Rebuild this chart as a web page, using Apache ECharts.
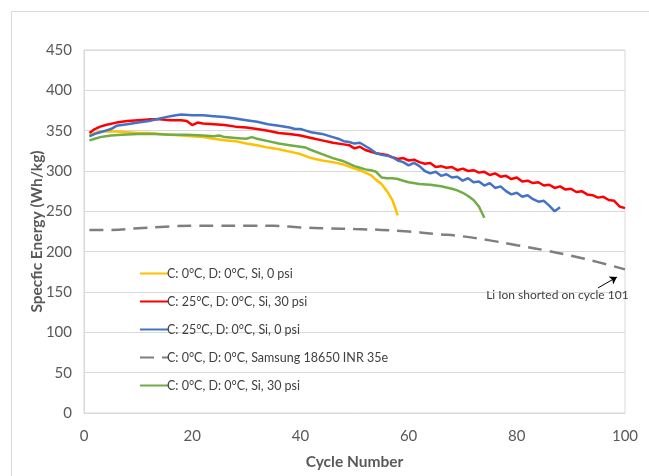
<!DOCTYPE html>
<html>
<head>
<meta charset="utf-8">
<script src="https://cdn.jsdelivr.net/npm/echarts@6/dist/echarts.min.js"></script>
<style>html,body{margin:0;padding:0;background:#fff;}#c{width:649px;height:476px;}</style>
</head>
<body>
<div id="c"></div>
<script>
// ---- data ----
const seriesNames = [
  'C: 0°C, D: 0°C, Si, 0 psi',
  'C: 25°C, D: 0°C, Si, 30 psi',
  'C: 25°C, D: 0°C, Si, 0 psi',
  'C: 0°C, D: 0°C, Samsung 18650 INR 35e',
  'C: 0°C, D: 0°C, Si, 30 psi'
];
const xTicks = [0, 20, 40, 60, 80, 100];
const yTicks = [0, 50, 100, 150, 200, 250, 300, 350, 400, 450];

const cyclesYellow = [1,2,3,4,6,8,10,12,14,16,18,20,22,24,26,28,30,32,34,36,38,40,42,44,46,48,50,51,52,53,54,55,56,57,58];
const energyYellow = [344,347,349,349,349,348,347,347,346,345,344,343,342,340,338,337,334,332,329,327,324,321,316,313,311,308,303,301,298,295,289,284,275,264,245];

const cyclesRed = [1,2,3,4,6,8,10,12,14,16,18,19,20,21,22,24,26,28,30,32,34,36,38,40,42,44,46,48,49,50,51,52,54,56,57,58,59,60,61,62,63,64,65,66,67,68,69,70,71,72,73,74,75,76,77,78,79,80,81,82,83,84,85,86,87,88,89,90,91,92,93,94,95,96,97,98,99,100];
const energyRed = [347,352,355,357,360,362,363,364,364,363,363,362,357,360,359,358,357,355,354,352,350,347,346,344,341,338,335,333,332,328,330,326,322,320,317,315,316,313,314,311,309,310,305,306,304,305,301,303,300,301,298,299,295,297,293,294,290,292,287,288,285,286,282,283,279,281,277,278,274,275,271,270,267,268,264,263,256,254];

const cyclesBlue = [1,2,3,4,5,6,8,10,12,14,16,17,18,20,22,24,26,28,30,32,34,36,38,39,40,41,42,44,46,47,48,49,50,51,52,53,54,55,56,57,58,59,60,61,62,63,64,65,66,67,68,69,70,71,72,73,74,75,76,77,78,79,80,81,82,83,84,85,86,87,88];
const energyBlue = [343,346,348,350,352,356,358,360,362,365,368,369,370,369,369,368,367,365,363,361,358,356,354,352,352,350,348,346,342,340,337,336,334,335,331,327,322,320,319,317,313,311,307,310,306,300,297,299,294,296,292,293,288,291,286,287,282,285,279,281,275,271,273,268,270,265,262,263,257,250,255];

const cyclesGray = [1,5,10,15,20,25,30,35,40,45,50,55,60,65,70,75,80,85,90,95,100];
const energyGray = [227,227,229,231,232,232,232,232,230,229,228,227,225,222,219,214,208,202,195,187,178];

const cyclesGreen = [1,2,3,4,5,7,10,13,16,19,22,24,25,26,28,30,31,32,34,36,38,40,41,42,44,46,48,50,51,52,53,54,55,56,57,58,59,60,62,64,66,68,69,70,71,72,73,74];
const energyGreen = [338,340,342,343,344,345,346,346,345,345,344,343,344,342,341,340,342,340,337,334,332,330,329,326,321,316,312,306,304,302,301,299,292,291,291,290,288,286,284,283,281,278,276,273,269,264,256,242];

const annotationText = 'Li Ion shorted on cycle 101';
const annotationArrow = [[95, 155], [98.5, 168.5]];
const annotationLabelAt = [87.5, 146];

// ---- chart ----
function pairs(xs, ys) { return xs.map((x, i) => [x, ys[i]]); }
const FONT = 'Lato';
const colors = ['#FFC000', '#FF0000', '#4472C4', '#7F7F7F', '#70AD47'];

const chart = echarts.init(document.getElementById('c'), null, {renderer: 'canvas'});
const lineBase = (name, data, color) => ({
  name, type: 'line', data, showSymbol: false, symbol: 'none',
  lineStyle: {color, width: 2.5}, itemStyle: {color}, z: 3
});

chart.setOption({
  animation: false,
  backgroundColor: '#fff',
  textStyle: {fontFamily: FONT},
  graphic: [{
    type: 'rect', left: 9, top: 9, shape: {width: 700, height: 520},
    style: {fill: 'none', stroke: '#d9d9d9', lineWidth: 1}, silent: true, z: -10
  }],
  grid: {left: 84, right: 24, top: 50, bottom: 63, show: true, borderColor: '#d9d9d9', borderWidth: 1},
  legend: {
    orient: 'vertical', left: 134, top: 262, itemGap: 15, itemWidth: 29, itemHeight: 14,
    data: seriesNames,
    itemStyle: {opacity: 0},
    textStyle: {fontFamily: FONT, fontSize: 12.5, color: '#404040', padding: [0, 0, 0, -7]},
    backgroundColor: 'transparent'
  },
  xAxis: {
    type: 'value', min: 0, max: 100, interval: 20,
    name: 'Cycle Number', nameLocation: 'middle', nameGap: 41, nameMoveOverlap: false,
    nameTextStyle: {fontFamily: FONT, fontSize: 15.5, fontWeight: 'bold', color: '#595959'},
    axisLine: {show: true, lineStyle: {color: '#d9d9d9'}},
    axisTick: {show: false},
    axisLabel: {fontFamily: FONT, fontSize: 15, color: '#595959', margin: 16,
      formatter: v => xTicks.includes(v) ? String(v) : ''},
    splitLine: {show: false}
  },
  yAxis: {
    type: 'value', min: 0, max: 450, interval: 50,
    name: 'Specfic Energy (Wh/kg)', nameLocation: 'middle', nameGap: 39, nameMoveOverlap: false,
    nameTextStyle: {fontFamily: FONT, fontSize: 15.5, fontWeight: 'bold', color: '#595959'},
    axisLine: {show: true, lineStyle: {color: '#d9d9d9'}},
    axisTick: {show: false},
    axisLabel: {fontFamily: FONT, fontSize: 15, color: '#595959', margin: 12,
      formatter: v => yTicks.includes(v) ? String(v) : ''},
    splitLine: {show: true, lineStyle: {color: '#d9d9d9', width: 1}}
  },
  series: [
    lineBase(seriesNames[0], pairs(cyclesYellow, energyYellow), colors[0]),
    lineBase(seriesNames[1], pairs(cyclesRed, energyRed), colors[1]),
    lineBase(seriesNames[2], pairs(cyclesBlue, energyBlue), colors[2]),
    Object.assign(lineBase(seriesNames[3], pairs(cyclesGray, energyGray), colors[3]), {
      smooth: true,
      lineStyle: {color: colors[3], width: 2.5, type: [14, 8]},
      markLine: {
        silent: true, symbol: ['none', 'arrow'], symbolSize: 7,
        lineStyle: {type: 'solid', color: '#000', width: 1},
        label: {show: false},
        data: [[{coord: annotationArrow[0]}, {coord: annotationArrow[1]}]]
      },
      markPoint: {
        silent: true, symbol: 'circle', symbolSize: 0,
        label: {show: true, position: 'inside', formatter: annotationText,
          fontFamily: FONT, fontSize: 12, color: '#404040'},
        data: [{coord: annotationLabelAt}]
      }
    }),
    lineBase(seriesNames[4], pairs(cyclesGreen, energyGreen), colors[4])
  ]
});
</script>
</body>
</html>
